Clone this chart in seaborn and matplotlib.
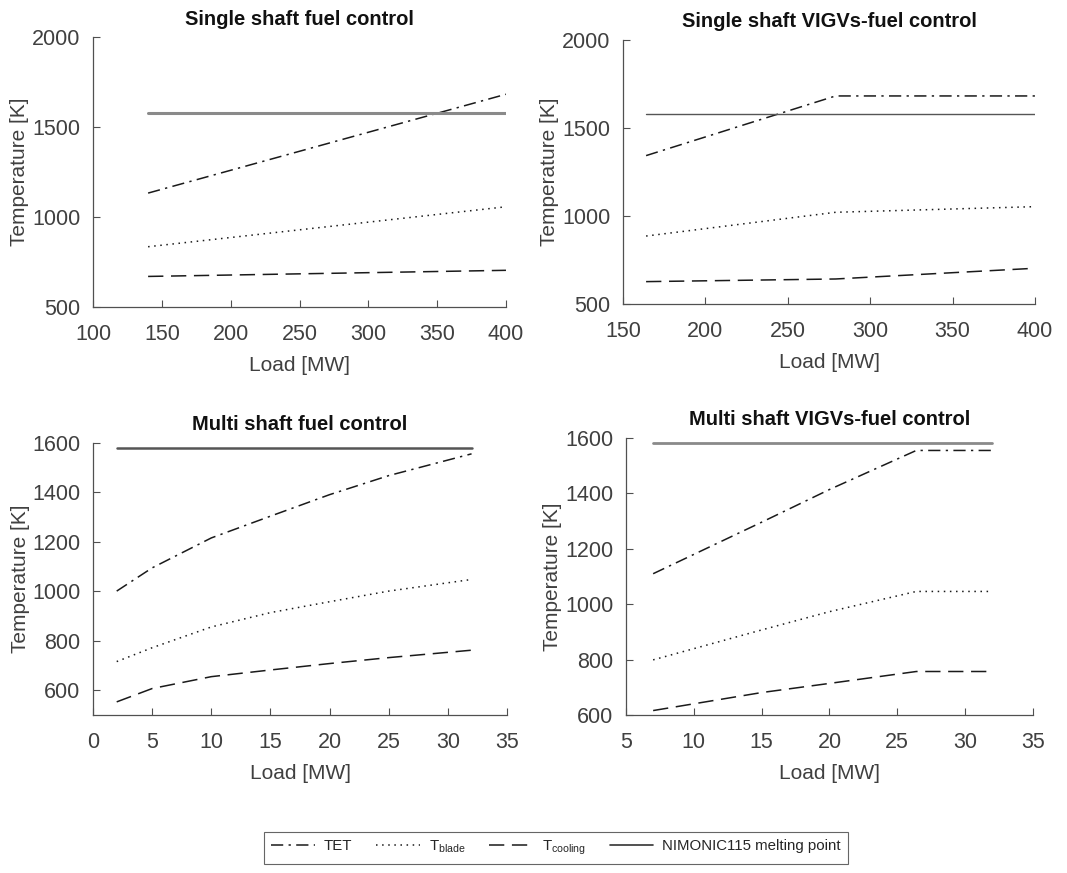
import numpy as np
import pandas as pd
import matplotlib
matplotlib.use("Agg")
import matplotlib.pyplot as plt
from matplotlib.lines import Line2D
import seaborn as sns

# ---------------- data ----------------
titles = ["Single shaft fuel control", "Single shaft VIGVs-fuel control",
          "Multi shaft fuel control", "Multi shaft VIGVs-fuel control"]

# Single shaft fuel control
ss_fuel_load = [140, 400]
ss_fuel_tet = [1133, 1682]
ss_fuel_blade = [835, 1057]
ss_fuel_cool = [670, 704]
ss_fuel_melt = [1578, 1578]

# Single shaft VIGVs-fuel control
ss_vigv_load = [164, 279, 400]
ss_vigv_tet = [1343, 1682, 1682]
ss_vigv_blade = [886, 1021, 1053]
ss_vigv_cool = [627, 642, 703]
ss_vigv_melt = [1578, 1578, 1578]

# Multi shaft fuel control
ms_fuel_load = [2, 5, 10, 15, 20, 25, 32]
ms_fuel_tet = [1001, 1095, 1216, 1304, 1391, 1468, 1556]
ms_fuel_blade = [716, 772, 856, 914, 958, 1001, 1048]
ms_fuel_cool = [553, 607, 655, 682, 708, 732, 762]
ms_fuel_melt = [1580] * 7

# Multi shaft VIGVs-fuel control
ms_vigv_load = [7, 15, 20, 26.4, 32]
ms_vigv_tet = [1110, 1296, 1414, 1555, 1555]
ms_vigv_blade = [799, 907, 973, 1046, 1046]
ms_vigv_cool = [616, 681, 714, 757, 757]
ms_vigv_melt = [1582] * 5

series_labels = ["TET", r"T$_{\mathrm{blade}}$", r"T$_{\mathrm{cooling}}$",
                 "NIMONIC115 melting point"]

xlims = [(100, 400), (150, 400), (0, 35), (5, 35)]
ylims = [(500, 2000), (500, 2000), (500, 1600), (600, 1600)]
xticks = [np.arange(100, 401, 50), np.arange(150, 401, 50),
          np.arange(0, 36, 5), np.arange(5, 36, 5)]
yticks = [np.arange(500, 2001, 500), np.arange(500, 2001, 500),
          np.arange(600, 1601, 200), np.arange(600, 1601, 200)]

panels = [
    (ss_fuel_load, ss_fuel_tet, ss_fuel_blade, ss_fuel_cool, ss_fuel_melt),
    (ss_vigv_load, ss_vigv_tet, ss_vigv_blade, ss_vigv_cool, ss_vigv_melt),
    (ms_fuel_load, ms_fuel_tet, ms_fuel_blade, ms_fuel_cool, ms_fuel_melt),
    (ms_vigv_load, ms_vigv_tet, ms_vigv_blade, ms_vigv_cool, ms_vigv_melt),
]

# ---------------- style ----------------
sns.set_style("ticks")
plt.rcParams['font.family'] = ['Liberation Sans', 'DejaVu Sans']
plt.rcParams['mathtext.fontset'] = 'custom'
plt.rcParams['mathtext.rm'] = 'Liberation Sans'
axcol = '#505050'
txtcol = '#404040'

fig = plt.figure(figsize=(10.67, 8.73), dpi=100)
positions = [
    [0.0872, 0.6483, 0.3870, 0.3093],
    [0.5839, 0.6518, 0.3861, 0.3024],
    [0.0872, 0.1810, 0.3880, 0.3116],
    [0.5867, 0.1810, 0.3814, 0.3173],
]

styles = [
    dict(color='#1a1a1a', lw=1.1, dashes=(8, 3.5, 1.5, 3.5)),
    dict(color='#1a1a1a', lw=1.1, dashes=(1, 3)),
    dict(color='#1a1a1a', lw=1.1, dashes=(10, 5)),
    dict(color='#4d4d4d', lw=1.8, dashes=None),
]
# melting-point line appearance per panel
melt_colors = ['#8a8a8a', '#555555', '#555555', '#8a8a8a']
melt_widths = [2.2, 1.0, 1.8, 2.0]

for i, (pos, p) in enumerate(zip(positions, panels)):
    ax = fig.add_axes(pos)
    load = p[0]
    for j in range(4):
        st = styles[j]
        col = st['color'] if j < 3 else melt_colors[i]
        lw = st['lw'] if j < 3 else melt_widths[i]
        sns.lineplot(x=load, y=p[j + 1], ax=ax, color=col, linewidth=lw)
        ln = ax.get_lines()[-1]
        if st['dashes'] is not None:
            ln.set_dashes(st['dashes'])
    ax.set_xlim(*xlims[i])
    ax.set_ylim(*ylims[i])
    ax.set_xticks(xticks[i])
    ax.set_yticks(yticks[i])
    ax.tick_params(axis='x', direction='in', length=5, width=0.8, colors=axcol,
                   labelsize=15.5, labelcolor=txtcol, pad=12)
    ax.tick_params(axis='y', direction='in', length=5, width=0.8, colors=axcol,
                   labelsize=15.5, labelcolor=txtcol, pad=9)
    for s in ['top', 'right']:
        ax.spines[s].set_visible(False)
    for s in ['left', 'bottom']:
        ax.spines[s].set_color(axcol)
        ax.spines[s].set_linewidth(0.9)
    ax.set_xlabel("Load [MW]", fontsize=15, color=txtcol, labelpad=8)
    ax.set_ylabel("Temperature [K]", fontsize=15, color=txtcol, labelpad=2)
    ax.set_title(titles[i], fontsize=14.5, fontweight='bold', color='#111111', pad=9)

handles = []
for j, st in enumerate(styles):
    h = Line2D([0], [0], color=st['color'] if j < 3 else '#333333', linewidth=st['lw'] if j < 3 else 1.2)
    if st['dashes'] is not None:
        h.set_dashes(st['dashes'])
    handles.append(h)

leg = fig.legend(handles, series_labels, loc='center', bbox_to_anchor=(0.521, 0.029),
                 ncol=4, frameon=True, fontsize=10.8, handlelength=2.9,
                 columnspacing=1.6, handletextpad=0.6, borderpad=0.45,
                 fancybox=False, edgecolor='#404040')
for t in leg.get_texts():
    t.set_color('#262626')
leg.get_frame().set_linewidth(0.8)

fig.savefig("out.png", dpi=100, facecolor='white')
